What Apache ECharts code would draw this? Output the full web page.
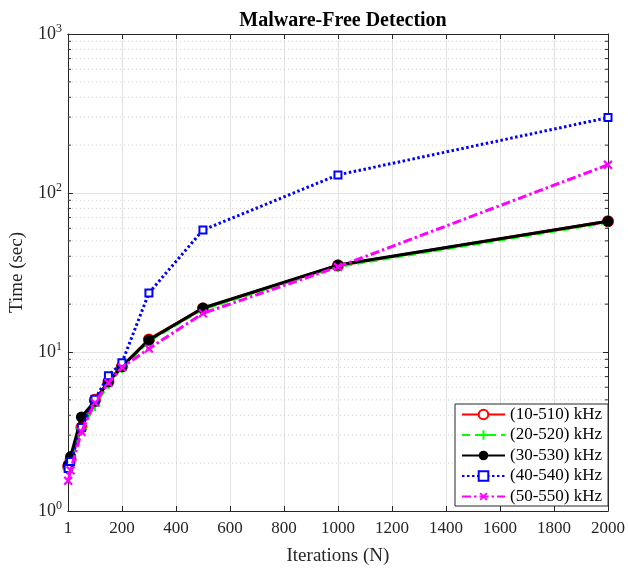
<!DOCTYPE html>
<html>
<head>
<meta charset="utf-8">
<script src="https://cdn.jsdelivr.net/npm/echarts@6/dist/echarts.min.js"></script>
<style>
  html, body { margin: 0; padding: 0; background: #fff; }
  #chart { width: 628px; height: 572px; }
</style>
</head>
<body>
<div id="chart"></div>
<script>
// Iteration counts (x) and detection times in seconds for each frequency band
const iterations = [1, 10, 50, 100, 150, 200, 300, 500, 1000, 2000];
const band10_510 = [1.9, 2.1, 3.35, 5.0, 6.5, 8.1, 12.0, 18.8, 35.0, 66.5];
const band20_520 = [1.85, 2.05, 3.3, 4.6, 6.3, 8.0, 11.8, 18.6, 34.5, 65.5];
const band30_530 = [1.95, 2.2, 3.9, 4.9, 6.5, 8.1, 11.9, 18.9, 35.2, 66.4];
const band40_540 = [1.85, 2.05, 3.35, 5.05, 7.1, 8.55, 23.5, 58.5, 130, 298];
const band50_550 = [1.55, 1.8, 3.15, 4.8, 6.4, 8.0, 10.5, 17.5, 34.3, 150.5];

const seriesNames = ['(10-510) kHz', '(20-520) kHz', '(30-530) kHz', '(40-540) kHz', '(50-550) kHz'];
const xTickValues = [0, 200, 400, 600, 800, 1000, 1200, 1400, 1600, 1800, 2000];
const xFirstTickLabel = '1';
// minor log grid values between decades
const minorValues = [2, 3, 4, 5, 6, 7, 8, 9, 20, 30, 40, 50, 60, 70, 80, 90, 200, 300, 400, 500, 600, 700, 800, 900];

const FONT = '"Liberation Serif", "Times New Roman", serif';
const AXIS_COLOR = '#262626';

const pair = ys => iterations.map((x, i) => [x, ys[i]]);
const plusPath = 'path://M4,0H6V4H10V6H6V10H4V6H0V4H4Z';

const chart = echarts.init(document.getElementById('chart'), null, { renderer: 'canvas' });

const option = {
  animation: false,
  backgroundColor: '#ffffff',
  title: {
    text: 'Malware-Free Detection',
    left: 338,
    top: 6,
    textAlign: 'center',
    textStyle: { fontFamily: FONT, fontSize: 20, fontWeight: 'bold', color: '#000' }
  },
  grid: { left: 66, right: 19, top: 34, bottom: 61, containLabel: false },
  legend: {
    data: seriesNames,
    orient: 'vertical',
    left: 455,
    top: 404,
    itemWidth: 43,
    itemHeight: 12,
    itemGap: 3.5,
    padding: [2, 6, 1, 6],
    backgroundColor: '#ffffff',
    borderColor: AXIS_COLOR,
    borderWidth: 1,
    borderRadius: 0,
    textStyle: { fontFamily: FONT, fontSize: 17, color: '#000' },
    z: 10
  },
  xAxis: [
    {
      type: 'value',
      min: 0,
      max: 2000,
      interval: 200,
      position: 'bottom',
      name: 'Iterations (N)',
      nameLocation: 'middle',
      nameGap: 36,
      nameTextStyle: { fontFamily: FONT, fontSize: 19, color: AXIS_COLOR },
      axisLine: { show: true, lineStyle: { color: AXIS_COLOR, width: 1 } },
      axisTick: { show: true, inside: true, length: 5, lineStyle: { color: AXIS_COLOR } },
      axisLabel: {
        fontFamily: FONT, fontSize: 17, color: AXIS_COLOR, margin: 9,
        formatter: v => (v === xTickValues[0] ? xFirstTickLabel : String(v))
      },
      splitLine: { show: true, lineStyle: { color: '#e3e3e3', width: 1 } }
    },
    {
      type: 'value',
      min: 0,
      max: 2000,
      interval: 200,
      position: 'top',
      axisLine: { show: true, onZero: false, lineStyle: { color: AXIS_COLOR, width: 1 } },
      axisTick: { show: true, inside: true, length: 5, lineStyle: { color: AXIS_COLOR } },
      axisLabel: { show: false },
      splitLine: { show: false }
    }
  ],
  yAxis: [
    {
      type: 'log',
      logBase: 10,
      min: 1,
      max: 1000,
      position: 'left',
      name: 'Time (sec)',
      nameLocation: 'middle',
      nameRotate: 90,
      nameGap: 31,
      nameTextStyle: { fontFamily: FONT, fontSize: 19, color: AXIS_COLOR },
      axisLine: { show: true, lineStyle: { color: AXIS_COLOR, width: 1 } },
      axisTick: { show: true, inside: true, length: 5, lineStyle: { color: AXIS_COLOR } },
      axisLabel: {
        fontFamily: FONT, fontSize: 18, color: AXIS_COLOR, margin: 6,
        formatter: v => '10{s|' + Math.round(Math.log10(v)) + '}',
        rich: {
          s: { fontFamily: FONT, fontSize: 12, color: AXIS_COLOR, verticalAlign: 'top', padding: [0, 0, 10, 0] }
        }
      },
      splitLine: { show: true, lineStyle: { color: '#e3e3e3', width: 1 } }
    },
    {
      type: 'log',
      logBase: 10,
      min: 1,
      max: 1000,
      position: 'right',
      axisLine: { show: true, onZero: false, lineStyle: { color: AXIS_COLOR, width: 1 } },
      axisTick: { show: true, inside: true, length: 5, lineStyle: { color: AXIS_COLOR } },
      axisLabel: { show: false },
      splitLine: { show: false }
    }
  ],
  series: [
    {
      // dotted minor grid lines with small ticks on both vertical edges
      type: 'custom',
      name: 'minor grid',
      silent: true,
      z: 1,
      xAxisIndex: 0,
      yAxisIndex: 0,
      data: minorValues.map(v => [0, v]),
      renderItem: (params, api) => {
        const v = api.value(1);
        const p1 = api.coord([0, v]);
        const p2 = api.coord([2000, v]);
        return {
          type: 'group',
          children: [
            {
              type: 'line',
              shape: { x1: p1[0], y1: p1[1], x2: p2[0], y2: p2[1] },
              style: { stroke: '#cccccc', lineWidth: 1, lineDash: [1, 3] }
            },
            {
              type: 'line',
              shape: { x1: p1[0], y1: p1[1], x2: p1[0] + 3, y2: p1[1] },
              style: { stroke: AXIS_COLOR, lineWidth: 1 }
            },
            {
              type: 'line',
              shape: { x1: p2[0] - 3, y1: p2[1], x2: p2[0], y2: p2[1] },
              style: { stroke: AXIS_COLOR, lineWidth: 1 }
            }
          ]
        };
      }
    },
    {
      name: seriesNames[0],
      type: 'line',
      data: pair(band10_510),
      symbol: 'emptyCircle',
      symbolSize: 10,
      lineStyle: { color: '#ff0000', width: 3, type: 'solid' },
      itemStyle: { color: '#ff0000', borderColor: '#ff0000', borderWidth: 2.5 },
      z: 3
    },
    {
      name: seriesNames[1],
      type: 'line',
      data: pair(band20_520),
      symbol: plusPath,
      symbolSize: 11,
      lineStyle: { color: '#00ff00', width: 3, type: [8, 5] },
      itemStyle: { color: '#00ff00' },
      z: 4
    },
    {
      name: seriesNames[2],
      type: 'line',
      data: pair(band30_530),
      symbol: 'circle',
      symbolSize: 11,
      lineStyle: { color: '#000000', width: 3, type: 'solid' },
      itemStyle: { color: '#000000' },
      z: 5
    },
    {
      name: seriesNames[3],
      type: 'line',
      data: pair(band40_540),
      symbol: 'emptyRect',
      symbolSize: 7,
      lineStyle: { color: '#0000ff', width: 3, type: [2.5, 2.5] },
      itemStyle: { color: '#0000ff', borderColor: '#0000ff', borderWidth: 3.5 },
      z: 6
    },
    {
      name: seriesNames[4],
      type: 'line',
      data: pair(band50_550),
      symbol: plusPath,
      symbolRotate: 45,
      symbolSize: 11,
      lineStyle: { color: '#ff00ff', width: 3, type: [9, 3, 2.5, 3] },
      itemStyle: { color: '#ff00ff' },
      z: 7
    }
  ]
};

chart.setOption(option);
</script>
</body>
</html>
